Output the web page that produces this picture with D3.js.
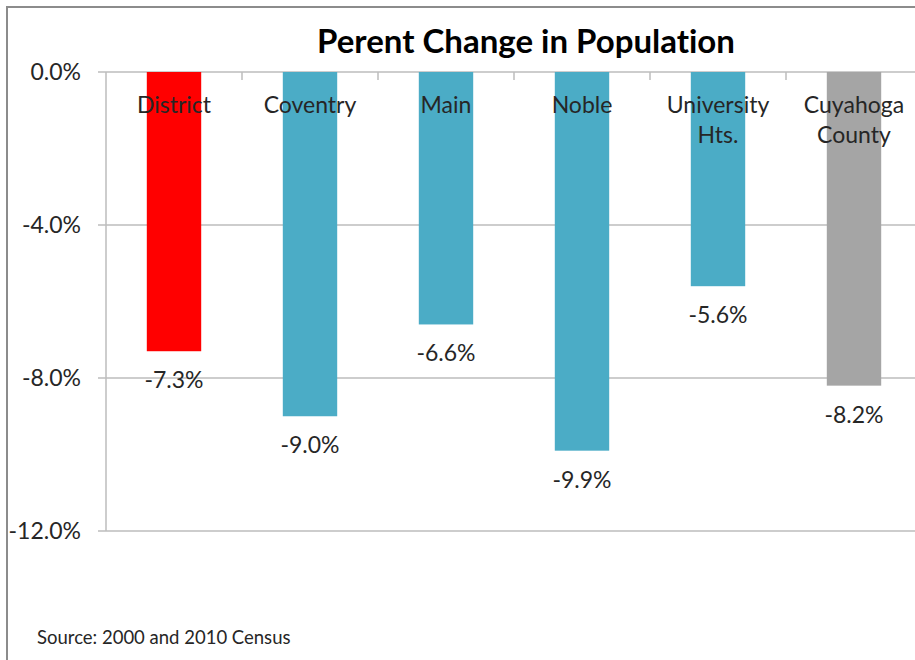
<!DOCTYPE html>
<html>
<head>
<meta charset="utf-8">
<script src="https://cdn.jsdelivr.net/npm/d3@7"></script>
<style>
  body { margin: 0; background: #fff; }
  text { font-family: Lato, "Open Sans", sans-serif; font-variant-ligatures: none; font-feature-settings: "liga" 0; }
</style>
</head>
<body>
<div id="chart"></div>
<script>
// data
var categories = ["District", "Coventry", "Main", "Noble", "University Hts.", "Cuyahoga County"];
var labelLines = [["District"], ["Coventry"], ["Main"], ["Noble"], ["University", "Hts."], ["Cuyahoga", "County"]];
var values = [-7.3, -9.0, -6.6, -9.9, -5.6, -8.2];
var barColors = ["#ff0000", "#4bacc6", "#4bacc6", "#4bacc6", "#4bacc6", "#a5a5a5"];
var yTicks = [0, -4, -8, -12];

var svgWidth = 915;
var svgHeight = 660;

var svg = d3.select("#chart")
  .append("svg")
  .attr("width", svgWidth)
  .attr("height", svgHeight);

// outer frame
svg.append("path")
  .attr("d", "M7,660 V7 H915")
  .attr("fill", "none")
  .attr("stroke", "#8c8c8c")
  .attr("stroke-width", 2);

var plot = { left: 106, right: 922, top: 72, bottom: 531 };

var x = d3.scaleBand()
  .domain(categories)
  .range([plot.left, plot.right])
  .paddingInner(0.6)
  .paddingOuter(0.3);

var y = d3.scaleLinear()
  .domain([0, -12])
  .range([plot.top, plot.bottom]);

// gridlines
svg.append("g")
  .selectAll("line")
  .data(yTicks)
  .enter().append("line")
  .attr("x1", plot.left - 8)
  .attr("x2", plot.right)
  .attr("y1", d => y(d))
  .attr("y2", d => y(d))
  .attr("stroke", "#bdbdbd")
  .attr("stroke-width", 1.5);

// y axis line
svg.append("line")
  .attr("x1", plot.left).attr("x2", plot.left)
  .attr("y1", plot.top).attr("y2", plot.bottom)
  .attr("stroke", "#bdbdbd")
  .attr("stroke-width", 1.5);

// y tick labels
svg.append("g")
  .selectAll("text")
  .data(yTicks)
  .enter().append("text")
  .attr("x", 81)
  .attr("y", d => y(d))
  .attr("dy", "0.35em")
  .attr("text-anchor", "end")
  .attr("font-size", "23px")
  .attr("fill", "#262626")
  .text(d => d.toFixed(1) + "%");

// bars
svg.append("g")
  .selectAll("rect")
  .data(values)
  .enter().append("rect")
  .attr("x", (d, i) => x(categories[i]))
  .attr("y", y(0))
  .attr("width", x.bandwidth())
  .attr("height", d => y(d) - y(0))
  .attr("fill", (d, i) => barColors[i]);

// category ticks on the zero line
var step = x.step();
var boundaries = d3.range(1, categories.length).map(i => plot.left + step * i);
svg.append("g")
  .selectAll("line")
  .data(boundaries)
  .enter().append("line")
  .attr("x1", d => d).attr("x2", d => d)
  .attr("y1", y(0)).attr("y2", y(0) + 8)
  .attr("stroke", "#bdbdbd")
  .attr("stroke-width", 1.5);

// category labels
var catG = svg.append("g")
  .selectAll("text")
  .data(labelLines)
  .enter().append("text")
  .attr("text-anchor", "middle")
  .attr("font-size", "23px")
  .attr("fill", "#262626");

catG.selectAll("tspan")
  .data((d, i) => d.map(t => ({ t: t, i: i })))
  .enter().append("tspan")
  .attr("x", d => x(categories[d.i]) + x.bandwidth() / 2)
  .attr("y", (d, j) => 113 + j * 30)
  .text(d => d.t);

// value labels
svg.append("g")
  .selectAll("text")
  .data(values)
  .enter().append("text")
  .attr("x", (d, i) => x(categories[i]) + x.bandwidth() / 2)
  .attr("y", d => y(d) + 37)
  .attr("text-anchor", "middle")
  .attr("font-size", "23px")
  .attr("fill", "#262626")
  .text(d => d.toFixed(1) + "%");

// title
svg.append("text")
  .attr("x", 526)
  .attr("y", 53)
  .attr("text-anchor", "middle")
  .attr("font-size", "33px")
  .attr("font-weight", "bold")
  .attr("fill", "#000")
  .text("Perent Change in Population");

// source
svg.append("text")
  .attr("x", 37)
  .attr("y", 644)
  .attr("font-size", "18.5px")
  .attr("fill", "#262626")
  .text("Source: 2000 and 2010 Census");
</script>
</body>
</html>
